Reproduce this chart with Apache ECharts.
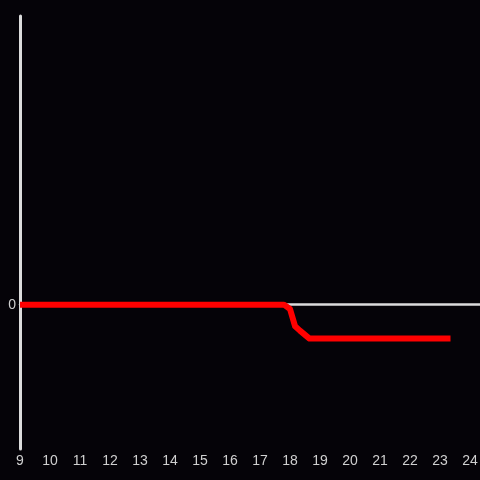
<!DOCTYPE html>
<html>
<head>
<meta charset="utf-8">
<script src="https://cdn.jsdelivr.net/npm/echarts@6/dist/echarts.min.js"></script>
<style>html,body{margin:0;padding:0;background:#050308;}#c{width:480px;height:480px;}</style>
</head>
<body>
<div id="c"></div>
<script>
// Time of day (hours) and value
var hours = [9, 10, 11, 12, 13, 14, 15, 16, 17, 17.5, 17.8, 18.0, 18.17, 18.33, 18.65, 19, 20, 21, 22, 23, 23.35];
var values = [0, 0, 0, 0, 0, 0, 0, 0, 0, 0, 0, -0.03, -0.15, -0.18, -0.235, -0.235, -0.235, -0.235, -0.235, -0.235, -0.235];
var xTickLabels = ['9','10','11','12','13','14','15','16','17','18','19','20','21','22','23','24'];
var yTickLabels = ['0'];

var chart = echarts.init(document.getElementById('c'), null, {renderer: 'canvas'});
var pts = hours.map(function (h, i) { return [h, values[i]]; });
var axisColor = '#dcdcdc';
var labelColor = '#d0d0d0';
chart.setOption({
  backgroundColor: '#050308',
  animation: false,
  grid: {left: 20, right: 0, top: 16, bottom: 31, containLabel: false, outerBoundsMode: 'none'},
  xAxis: [{
    type: 'value', min: 9, max: 24.333, interval: 1, position: 'bottom',
    axisLine: {show: false, onZero: false}, axisTick: {show: false}, splitLine: {show: false},
    axisLabel: {
      color: labelColor, fontSize: 14, fontFamily: 'Liberation Sans', margin: 5,
      formatter: function (v) { var s = String(v); return xTickLabels.indexOf(s) >= 0 ? s : ''; }
    }
  }, {
    type: 'value', min: 9, max: 24.333, interval: 1, position: 'bottom',
    axisLine: {show: true, onZero: true, lineStyle: {color: axisColor, width: 2.5}},
    axisTick: {show: false}, splitLine: {show: false}, axisLabel: {show: false}
  }],
  yAxis: {
    type: 'value', min: -1, max: 2, interval: 1,
    axisLine: {show: true, onZero: false, lineStyle: {color: axisColor, width: 3}},
    axisTick: {show: false}, splitLine: {show: false},
    axisLabel: {
      color: labelColor, fontSize: 14, fontFamily: 'Liberation Sans', margin: 4,
      formatter: function (v) { var s = String(v); return yTickLabels.indexOf(s) >= 0 ? s : ''; }
    }
  },
  series: [{
    type: 'line', data: pts, xAxisIndex: 0, showSymbol: false, symbol: 'none',
    lineStyle: {color: '#ff0000', width: 6, cap: 'butt', join: 'round'}
  }]
});
</script>
</body>
</html>
